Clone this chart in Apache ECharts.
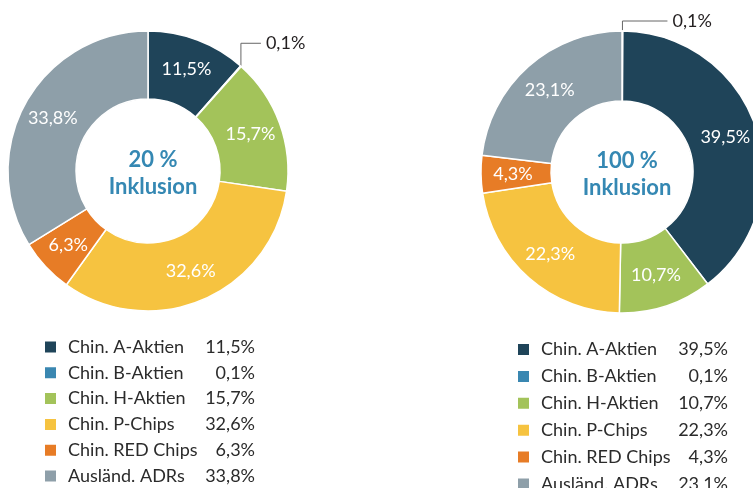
<!DOCTYPE html>
<html lang="de">
<head>
<meta charset="UTF-8">
<title>Inklusion</title>
<script src="https://cdn.jsdelivr.net/npm/echarts@6/dist/echarts.min.js"></script>
<style>
  html, body { margin: 0; padding: 0; background: #fff; }
  #chart { width: 753px; height: 488px; }
</style>
</head>
<body>
<div id="chart"></div>
<script type="text/javascript">
var names = ['Chin. A-Aktien', 'Chin. B-Aktien', 'Chin. H-Aktien', 'Chin. P-Chips', 'Chin. RED Chips', 'Ausländ. ADRs'];
var colors = ['#1f4459', '#3a87b1', '#a3c35a', '#f6c340', '#e77c26', '#8e9fa9'];
var values20 = [11.5, 0.1, 15.7, 32.6, 6.3, 33.8];
var values100 = [39.5, 0.1, 10.7, 22.3, 4.3, 23.1];
// order of slices clockwise from the top in the right chart
var order100 = [1, 0, 2, 3, 4, 5];

var font = 'Lato';
function pct(v) { return v.toFixed(1).replace('.', ',') + '%'; }

function pieData(vals, order) {
    return order.map(function (i) {
        var d = { name: names[i], value: vals[i], itemStyle: { color: colors[i] } };
        if (vals[i] < 1) {
            d.label = { position: 'outside', color: '#231f20' };
            d.labelLine = { show: true, length: 10, length2: 10, lineStyle: { color: '#666', width: 1 } };
        }
        return d;
    });
}

// leader line: straight up from the rim, then to the right
var rise = [23, 10], run = [20, 45];
function leader(params) {
    var pts = params.labelLinePoints;
    if (!pts || params.text !== '0,1%') return;
    var p0 = pts[0], s = params.seriesIndex;
    var y = p0[1] - rise[s];
    return {
        x: p0[0] + run[s] + 5, y: y, align: 'left', verticalAlign: 'middle',
        labelLinePoints: [p0, [p0[0], y], [p0[0] + run[s], y]]
    };
}

function pieSeries(vals, order, center, radius) {
    return {
        type: 'pie',
        center: center,
        radius: radius,
        startAngle: 90,
        clockwise: true,
        avoidLabelOverlap: false,
        silent: true,
        itemStyle: { borderColor: '#fff', borderWidth: 1.5 },
        label: {
            show: true, position: 'inside', color: '#fff',
            fontFamily: font, fontSize: 18,
            formatter: function (p) { return pct(p.value); }
        },
        labelLine: { show: false },
        labelLayout: leader,
        data: pieData(vals, order)
    };
}

function legendFor(vals, left, top, gap) {
    return {
        orient: 'vertical', left: left, top: top, height: 220,
        padding: 0,
        icon: 'rect', itemWidth: 13, itemHeight: 13, itemGap: gap,
        selectedMode: false,
        data: names,
        formatter: function (name) {
            return '{n|' + name + '}{v|' + pct(vals[names.indexOf(name)]) + '}';
        },
        textStyle: {
            color: '#2b2b2b', fontFamily: font, fontSize: 18, lineHeight: 20,
            padding: [0, 0, 0, 6],
            rich: {
                n: { fontFamily: font, fontSize: 18, color: '#2b2b2b', width: 135 },
                v: { fontFamily: font, fontSize: 18, color: '#2b2b2b', width: 52, align: 'right' }
            }
        }
    };
}

var chart = echarts.init(document.getElementById('chart'));
chart.setOption({
    animation: false,
    title: [
        { text: '20 %\nInklusion', left: 148, top: 168, textAlign: 'center', textVerticalAlign: 'middle',
          textStyle: { color: '#3588b3', fontFamily: font, fontWeight: 'bold', fontSize: 22, lineHeight: 27 } },
        { text: '100 %\nInklusion', left: 622, top: 169, textAlign: 'center', textVerticalAlign: 'middle',
          textStyle: { color: '#3588b3', fontFamily: font, fontWeight: 'bold', fontSize: 22, lineHeight: 27 } }
    ],
    legend: [
        legendFor(values20, 43, 337, 5.8),
        legendFor(values100, 516, 339.5, 6.9)
    ],
    series: [
        pieSeries(values20, [0, 1, 2, 3, 4, 5], [148, 171], [72, 140]),
        pieSeries(values100, order100, [622, 172], [71, 141])
    ]
});
</script>
</body>
</html>
